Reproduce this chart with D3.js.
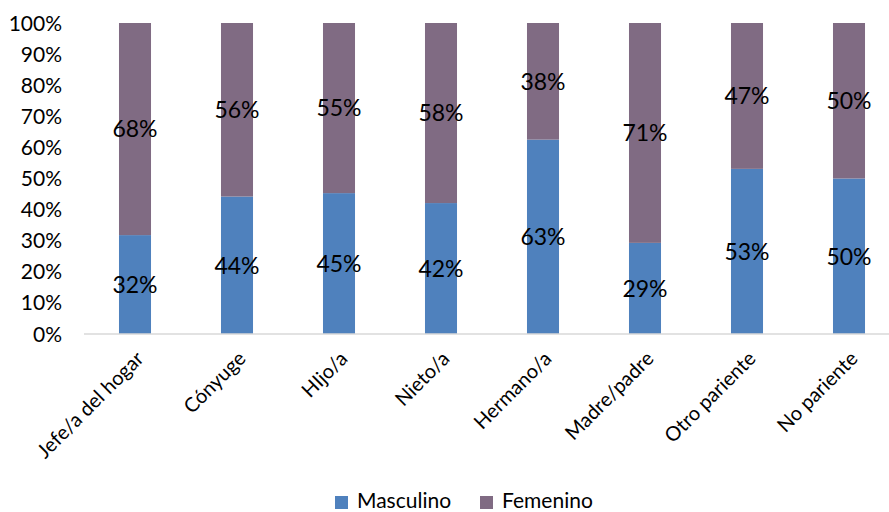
<!DOCTYPE html>
<html><head><meta charset="utf-8">
<script src="https://cdn.jsdelivr.net/npm/d3@7/dist/d3.min.js"></script>
<style>body{margin:0;background:#fff}svg{display:block}text{font-family:Lato,"Open Sans",sans-serif;fill:#000}</style>
</head><body><svg id="c" width="889" height="512"></svg>
<script>
const categories = ["Jefe/a del hogar","Cónyuge","HIjo/a","Nieto/a","Hermano/a","Madre/padre","Otro pariente","No pariente"];
const masculino = [31.8,44.2,45.3,42.1,62.5,29.3,53.1,50.0];
const femenino  = [68.2,55.8,54.7,57.9,37.5,70.7,46.9,50.0];
const seriesNames = ["Masculino","Femenino"];
const yTicks = [0,10,20,30,40,50,60,70,80,90,100];
const colors = ["#4f81bd","#806b83"];

const svg = d3.select("#c");
const x = d3.scaleBand().domain(categories).range([84,900]).paddingInner(0.686).paddingOuter(0.343);
const y = d3.scaleLinear().domain([0,100]).range([334,23]);

// y axis labels
svg.append("g").selectAll("text").data(yTicks).join("text")
  .attr("x",62).attr("y",d=>y(d)).attr("dy","0.36em").attr("text-anchor","end")
  .style("font-size","21px").text(d=>d+"%");

const data = categories.map((c,i)=>({c, m:masculino[i], f:femenino[i]}));
const stack = d3.stack().keys(["m","f"])(data);

svg.append("g").selectAll("g").data(stack).join("g").attr("fill",(d,i)=>colors[i])
  .selectAll("rect").data(d=>d).join("rect")
  .attr("x",d=>x(d.data.c)).attr("width",x.bandwidth())
  .attr("y",d=>y(d[1])).attr("height",d=>y(d[0])-y(d[1]));

// axis line
svg.append("line").attr("x1",84).attr("x2",889).attr("y1",y(0)).attr("y2",y(0))
  .attr("stroke","#d9d9d9").attr("stroke-width",1.5);

// data labels
stack.forEach(s=>{
  svg.append("g").selectAll("text").data(s).join("text")
    .attr("x",d=>x(d.data.c)+x.bandwidth()/2).attr("y",d=>y((d[0]+d[1])/2)).attr("dy","0.36em")
    .attr("text-anchor","middle").style("font-size","23px")
    .text(d=>Math.round(d[1]-d[0])+"%");
});

// category labels
svg.append("g").selectAll("text").data(categories).join("text")
  .attr("transform",d=>`translate(${x(d)+x.bandwidth()/2},${350}) rotate(-45)`)
  .attr("text-anchor","end").attr("dy","0.7em").style("font-size","20px").text(d=>d);

// legend
const lg = svg.append("g");
const lx = [335,480];
seriesNames.forEach((n,i)=>{
  lg.append("rect").attr("x",lx[i]).attr("y",496).attr("width",13).attr("height",13).attr("fill",colors[i]);
  lg.append("text").attr("x",lx[i]+22).attr("y",508).style("font-size","21px").text(n);
});
</script></body></html>
